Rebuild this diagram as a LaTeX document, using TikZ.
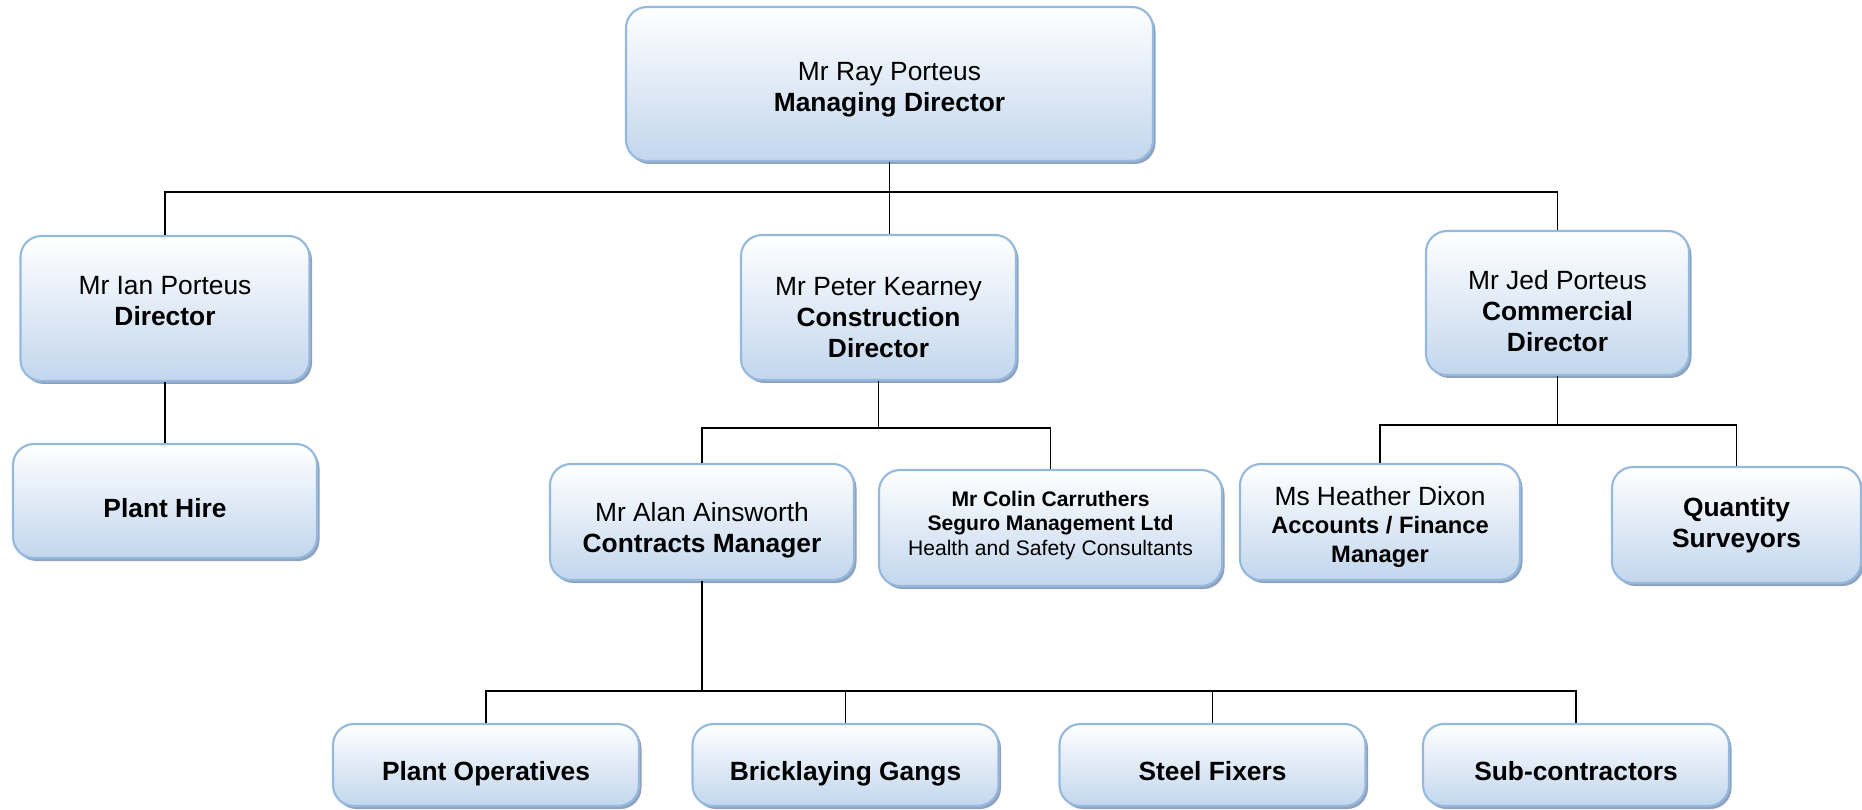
\documentclass[tikz,border=0pt]{standalone}
\usepackage{fontspec}
\setmainfont{Liberation Sans}
\usetikzlibrary{shadows}
\definecolor{boxborder}{RGB}{149,185,221}
\definecolor{boxblue}{RGB}{194,214,237}
\definecolor{boxshadow}{RGB}{141,162,190}

% text lines of a box, moved down by #1 without changing the box
\newcommand{\boxtext}[2]{\raisebox{-#1}[\height][\depth]{\begin{tabular}{@{}c@{}}#2\end{tabular}}}

\tikzset{
    orgbox/.style={draw=boxborder, line width=1.2pt, rounded corners=0.42cm,
        top color=white, bottom color=boxblue, inner sep=2pt,
        font=\fontsize{15}{17.6}\selectfont,
        drop shadow={shadow xshift=0.05cm, shadow yshift=-0.06cm, fill=boxshadow, opacity=1}},
    boxsize/.style 2 args={minimum width=#1*0.02cm, minimum height=#2*0.02cm},
    link/.style={black, line width=0.9pt}
}

\begin{document}
\begin{tikzpicture}[x=0.02cm, y=-0.02cm]

    \useasboundingbox (0,0) rectangle (1862,810);

    % top
    \node[orgbox, boxsize={527}{154}] (md) at (889.5,84)
        {\boxtext{0.12cm}{Mr Ray Porteus\\\textbf{Managing Director}}};

    % directors
    \node[orgbox, boxsize={289}{145}] (ian) at (165,308.5)
        {\boxtext{-0.09cm}{Mr Ian Porteus\\\textbf{Director}}};
    \node[orgbox, boxsize={275}{145}] (peter) at (878.5,307.5)
        {\boxtext{0.25cm}{Mr Peter Kearney\\\textbf{Construction}\\\textbf{Director}}};
    \node[orgbox, boxsize={263}{144}] (jed) at (1557.5,303)
        {\boxtext{0.23cm}{Mr Jed Porteus\\\textbf{Commercial}\\\textbf{Director}}};

    % managers
    \node[orgbox, boxsize={304}{114}] (hire) at (165,501)
        {\boxtext{0.2cm}{\textbf{Plant Hire}}};
    \node[orgbox, boxsize={304}{116}] (alan) at (702,522)
        {\boxtext{0.17cm}{Mr Alan Ainsworth\\\textbf{Contracts Manager}}};
    \node[orgbox, boxsize={343}{116}, font=\fontsize{12}{13.9}\selectfont] (colin) at (1050.5,528)
        {\boxtext{-0.04cm}{\textbf{Mr Colin Carruthers}\\\textbf{Seguro Management Ltd}\\Health and Safety Consultants}};
    \node[orgbox, boxsize={280}{116}, font=\fontsize{13.5}{16.2}\selectfont] (heather) at (1380,522)
        {\boxtext{0.12cm}{\fontsize{15}{16.2}\selectfont Ms Heather Dixon\\\textbf{Accounts / Finance}\\\textbf{Manager}}};
    \node[orgbox, boxsize={249}{116}] (qs) at (1736.5,525)
        {\boxtext{0.02cm}{\textbf{Quantity}\\\textbf{Surveyors}}};

    % site
    \node[orgbox, boxsize={306}{82}] (ops) at (486,765) {\boxtext{0.18cm}{\textbf{Plant Operatives}}};
    \node[orgbox, boxsize={306}{82}] (brick) at (845.5,765) {\boxtext{0.18cm}{\textbf{Bricklaying Gangs}}};
    \node[orgbox, boxsize={306}{82}] (steel) at (1212.5,765) {\boxtext{0.18cm}{\textbf{Steel Fixers}}};
    \node[orgbox, boxsize={306}{82}] (subs) at (1576,765) {\boxtext{0.18cm}{\textbf{Sub-contractors}}};

    \coordinate (busa) at (0,192);
    \coordinate (busb) at (0,428);
    \coordinate (busc) at (0,425);
    \coordinate (busd) at (0,691);

    \draw[link] (md.south) -- (md.south |- peter.north);
    \draw[link] (ian.north) |- (busa -| jed.north) -- (jed.north);
    \draw[link] (ian.south) -- (hire.north);

    \draw[link] (peter.south) -- (peter.south |- busb);
    \draw[link] (alan.north) |- (busb -| colin.north) -- (colin.north);

    \draw[link] (jed.south) -- (jed.south |- busc);
    \draw[link] (heather.north) |- (busc -| qs.north) -- (qs.north);

    \draw[link] (alan.south) -- (alan.south |- busd);
    \draw[link] (ops.north) |- (busd -| subs.north) -- (subs.north);
    \foreach \n in {brick, steel}
        \draw[link] (\n.north) -- (\n.north |- busd);

\end{tikzpicture}
\end{document}
